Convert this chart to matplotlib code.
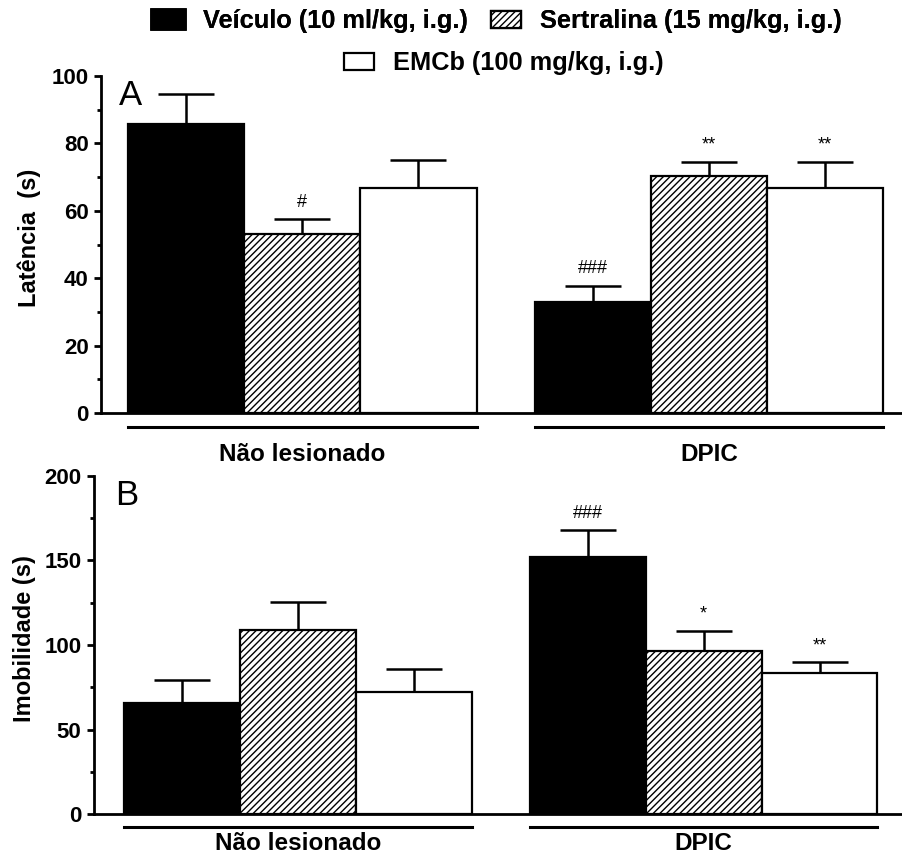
import numpy as np
import matplotlib
matplotlib.use('Agg')
import matplotlib.pyplot as plt
import matplotlib.transforms as mtransforms
from matplotlib.patches import Patch

plt.rcParams['font.family'] = ['Liberation Sans', 'DejaVu Sans']
plt.rcParams['hatch.linewidth'] = 1.0

groups = ['Não lesionado', 'DPIC']
treatments = ['Veículo (10 ml/kg, i.g.)', 'Sertralina (15 mg/kg, i.g.)', 'EMCb (100 mg/kg, i.g.)']

# panel A - latencia (s), order: veiculo, sertralina, emcb for each group
lat_mean = [85.7, 53.0, 66.9, 33.0, 70.3, 66.9]
lat_err = [8.9, 4.6, 8.2, 4.8, 4.2, 7.6]
lat_sig = ['', '#', '', '###', '**', '**']

# panel B - imobilidade (s)
imob_mean = [65.5, 108.9, 72.2, 152.2, 96.6, 83.2]
imob_err = [13.8, 16.7, 13.6, 15.8, 11.9, 6.6]
imob_sig = ['', '', '', '###', '*', '**']

colors = ['black', 'white', 'white']
hatches = ['', '/////', '']

xpos = np.array([1 + t + g * 3.5 for g in range(2) for t in range(3)])
group_centers = [2.0, 5.5]

fig = plt.figure(figsize=(9.03, 8.56), dpi=100)
axA = fig.add_axes([0.112, 0.5175, 0.888, 0.3937])
axB = fig.add_axes([0.104, 0.049, 0.896, 0.395])

panels = [
    (axA, lat_mean, lat_err, lat_sig, 100, 20, 'Latência  (s)', 'A', (0.27, 7.17), -0.075, -0.042, -0.142),
    (axB, imob_mean, imob_err, imob_sig, 200, 50, 'Imobilidade (s)', 'B', (0.24, 7.22), -0.072, -0.038, -0.107),
]

for ax, mean, err, sig, ymax, step, ylab, letter, xl, labx, liney, texty in panels:
    for i in range(6):
        t = i % 3
        ax.bar(xpos[i], mean[i], width=1.0, color=colors[t], edgecolor='black',
               linewidth=1.6, hatch=hatches[t], zorder=2)
    ax.errorbar(xpos, mean, yerr=[np.zeros(6), err], fmt='none', ecolor='black',
                elinewidth=1.8, capsize=20, capthick=1.8, zorder=1)
    for i in range(6):
        if sig[i]:
            ax.annotate(sig[i], (xpos[i], mean[i] + err[i]), xytext=(0, 12),
                        textcoords='offset points', ha='center', va='center', fontsize=13)
    ax.set_xlim(*xl)
    ax.set_ylim(0, ymax)
    ax.set_yticks(np.arange(0, ymax + 1, step))
    ax.set_yticks(np.arange(step / 2, ymax, step), minor=True)
    ax.set_xticks([])
    ax.spines['top'].set_visible(False)
    ax.spines['right'].set_visible(False)
    ax.spines['left'].set_linewidth(2)
    ax.spines['bottom'].set_linewidth(2)
    ax.tick_params(axis='y', which='major', length=5, width=2, pad=4, labelsize=16)
    ax.tick_params(axis='y', which='minor', length=3, width=2)
    for lbl in ax.get_yticklabels():
        lbl.set_fontweight('bold')
    ax.set_ylabel(ylab, fontsize=17, fontweight='bold')
    ax.yaxis.set_label_coords(labx, 0.52)
    ax.text(0.42, ymax * 0.943, letter, fontsize=25, ha='left', va='center')
    # group underline and label below the axis
    trans = mtransforms.blended_transform_factory(ax.transData, ax.transAxes)
    for g in range(2):
        ax.plot([xpos[g * 3] - 0.5, xpos[g * 3 + 2] + 0.5], [liney, liney], color='black',
                linewidth=2.2, transform=trans, clip_on=False)
        ax.text(group_centers[g], texty, groups[g], transform=trans, ha='center',
                va='baseline', fontsize=17.5, fontweight='bold')

# legend: two entries on the first row, one centred below
handles = [Patch(facecolor=colors[t], edgecolor='black', hatch=hatches[t],
                 linewidth=4 if t == 0 else 1.6) for t in range(3)]
legkw = dict(frameon=False, prop={'weight': 'bold', 'size': 18.3}, handlelength=1.2,
             handleheight=0.65, handletextpad=0.75, columnspacing=0.9, borderpad=0)
leg1 = fig.legend(handles[:2], treatments[:2], loc='center', bbox_to_anchor=(0.551, 0.975),
                  ncol=2, **legkw)
leg2 = fig.legend(handles[2:], treatments[2:], loc='center', bbox_to_anchor=(0.558, 0.926), **legkw)
fig.add_artist(leg1)

fig.savefig('out.png', dpi=100)
